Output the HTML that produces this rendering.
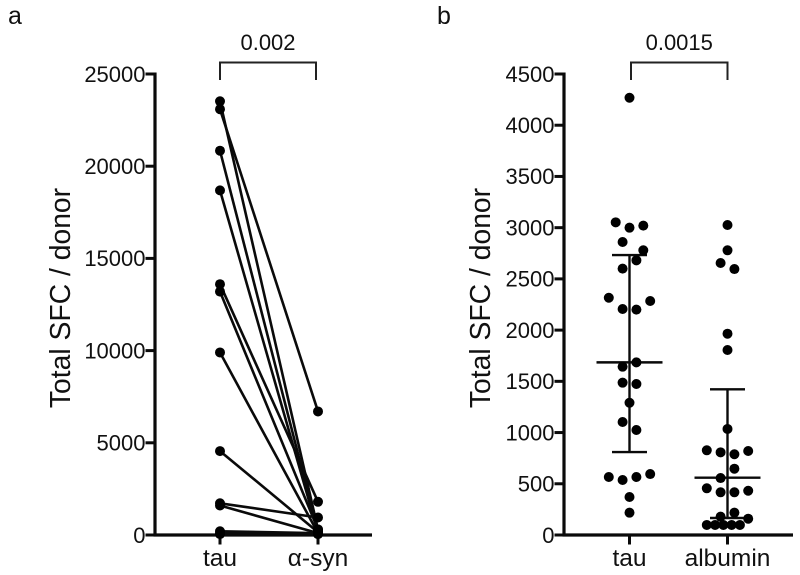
<!DOCTYPE html>
<html>
<head>
<meta charset="utf-8">
<style>
html,body{margin:0;padding:0;background:#fff;width:800px;height:575px;overflow:hidden}
svg{display:block;font-family:"Liberation Sans",sans-serif;fill:#111}
</style>
</head>
<body>
<svg id="fig" width="800" height="575" viewBox="0 0 800 575"></svg>
<script>
// Panel a: paired values
const pairedTau = [23090, 23520, 20840, 18690, 13600, 13200, 9900, 4550, 1720, 1600, 200, 100, 50];
const pairedSyn = [6700, 300, 200, 150, 1800, 300, 100, 150, 950, 100, 100, 50, 50];
const pairedCategories = ['tau', 'α-syn'];
const pairedTicks = [0, 5000, 10000, 15000, 20000, 25000];
const pairedP = '0.002';

// Panel b: scatter values with swarm lanes
const scatterCategories = ['tau', 'albumin'];
const scatterTicks = [0, 500, 1000, 1500, 2000, 2500, 3000, 3500, 4000, 4500];
const tauValues = [4268, 3052, 3000, 3020, 2860, 2779, 2681, 2600, 2316, 2284, 2206, 2200, 1685, 1643, 1487, 1474, 1291, 1103, 1025, 566, 537, 566, 595, 371, 218];
const tauLanes = [0, -2, 0, 2, -1, 2, 1, -1, -3, 3, -1, 1, 1, -1, -1, 1, 0, -1, 1, -3, -1, 1, 3, 0, 0];
const albuminValues = [3026, 2779, 2655, 2596, 1965, 1806, 1035, 827, 807, 788, 820, 647, 556, 456, 417, 417, 432, 179, 218, 159, 98, 98, 98, 98, 98];
const albuminLanes = [0, 0, -1, 1, 0, 0, 0, -3, -1, 1, 3, 1, -1, -3, -1, 1, 3, -1, 1, 3, -3, -1.8, -0.6, 0.6, 1.8];
const tauStats = [1685, 2733, 810];
const albuminStats = [559, 1422, 166];
const scatterP = '0.0015';

const svg = document.getElementById('fig');
const NS = 'http://www.w3.org/2000/svg';
const INK = '#0a0a0a';
function mk(tag, attrs, parent) {
  const e = document.createElementNS(NS, tag);
  for (const k in attrs) e.setAttribute(k, attrs[k]);
  (parent || svg).appendChild(e);
  return e;
}
function line(x1, y1, x2, y2, w, name) {
  const e = mk('line', {x1: x1, y1: y1, x2: x2, y2: y2, stroke: INK, 'stroke-width': w});
  
  
  return e;
}
function text(x, y, s, size, anchor, name) {
  const e = mk('text', {x: x, y: y, 'font-size': size, 'text-anchor': anchor});
  e.textContent = s;
  
  
  return e;
}
function dot(x, y, name) {
  const e = mk('circle', {cx: x, cy: y, r: 5, fill: '#000'});
  
  
  return e;
}
const Y0 = 535, YTOP = 74;

function axes(axisX, axisEnd, ticks, cats, catX, titleX, prefix) {
  const maxV = ticks[ticks.length - 1];
  const y = v => Y0 - (v / maxV) * (Y0 - YTOP);
  line(axisX, YTOP - 1.5, axisX, Y0 + 1.5, 3.2, prefix + '-y-axis');
  line(axisX - 1.5, Y0, axisEnd, Y0, 3.2, prefix + '-x-axis');
  ticks.forEach(t => {
    line(axisX - 9.5, y(t), axisX, y(t), 3, prefix + '-y-tick');
    text(axisX - 9.5, y(t) + 7.8, String(t), 22, 'end', prefix + '-y-tick-label');
  });
  cats.forEach((c, i) => {
    line(catX[i], Y0, catX[i], Y0 + 9.5, 3, prefix + '-x-tick');
    text(catX[i], Y0 + 31, c, 24.5, 'middle', prefix + '-x-label');
  });
  const title = text(0, 0, 'Total SFC / donor', 28.3, 'middle', prefix + '-y-axis-title');
  title.setAttribute('transform', 'translate(' + titleX + ',298) rotate(-90)');
  return y;
}
function bracket(x1, x2, label, prefix) {
  const e = mk('path', {d: 'M' + x1 + ' 80V62.5H' + x2 + 'V80', fill: 'none', stroke: '#222', 'stroke-width': 2});
  
  
  text((x1 + x2) / 2, 50, label, 22, 'middle', prefix + '-p-value');
}

// Panel a
text(8, 24, 'a', 25, 'start', 'panel-a-label');
const ax = [220, 318];
const ya = axes(155, 372, pairedTicks, pairedCategories, ax, 70, 'panel-a');
bracket(220, 316, pairedP, 'panel-a');
pairedTau.forEach((v, i) => {
  line(ax[0], ya(v), ax[1], ya(pairedSyn[i]), 2.6, 'paired-line');
});
pairedTau.forEach((v, i) => {
  dot(ax[0], ya(v), 'tau-point');
  dot(ax[1], ya(pairedSyn[i]), 'syn-point');
});

// Panel b
text(437, 24, 'b', 25, 'start', 'panel-b-label');
const bx = [629.5, 727.5];
const yb = axes(564, 793, scatterTicks, scatterCategories, bx, 490, 'panel-b');
bracket(631, 727.5, scatterP, 'panel-b');
const LANE = 6.9;
function errorBars(cx, stats, name) {
  line(cx, yb(stats[1]), cx, yb(stats[2]), 2.4, name + '-error-stem');
  line(cx - 33, yb(stats[0]), cx + 33, yb(stats[0]), 2.4, name + '-mean-line');
  line(cx - 17.5, yb(stats[1]), cx + 17.5, yb(stats[1]), 2.4, name + '-upper-cap');
  line(cx - 17.5, yb(stats[2]), cx + 17.5, yb(stats[2]), 2.4, name + '-lower-cap');
}
errorBars(bx[0], tauStats, 'tau');
errorBars(bx[1], albuminStats, 'albumin');
tauValues.forEach((v, i) => {
  dot(bx[0] + tauLanes[i] * LANE, yb(v), 'tau-scatter-point');
});
albuminValues.forEach((v, i) => {
  dot(bx[1] + albuminLanes[i] * LANE, yb(v), 'albumin-scatter-point');
});
</script>
</body>
</html>
